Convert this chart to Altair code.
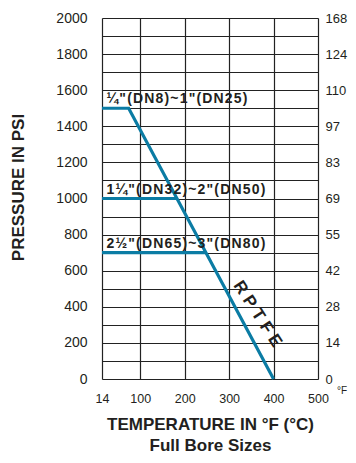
import altair as alt
import pandas as pd

# ---- data ----
curve_temp = [14, 74, 400]
curve_psi = [1500, 1500, 0]
mid_temp = [14, 183]
mid_psi = [1000, 1000]
low_temp = [14, 248]
low_psi = [700, 700]

size_labels = ["¼\"(DN8)~1\"(DN25)", "1¼\"(DN32)~2\"(DN50)", "2½\"(DN65)~3\"(DN80)"]
size_label_psi = [1500, 1000, 700]
size_label_temp = [14, 14, 14]

x_ticks = [14, 100, 200, 300, 400, 500]
psi_grid = [0, 100, 200, 300, 400, 500, 600, 700, 800, 900, 1000,
            1100, 1200, 1300, 1400, 1500, 1600, 1700, 1800, 1900, 2000]
psi_ticks = [0, 200, 400, 600, 800, 1000, 1200, 1400, 1600, 1800, 2000]
bar_labels = ["0", "14", "28", "42", "55", "69", "83", "97", "110", "124", "168"]

material = "RPTFE"
material_temp = 364
material_psi = 360

FONT = "Liberation Sans"
BLUE = "#0b7ca4"
INK = "#231f20"
GRID = "#222222"

rows = []
for t, p in zip(curve_temp, curve_psi):
    rows.append({"temp": t, "psi": p, "series": "main"})
for t, p in zip(mid_temp, mid_psi):
    rows.append({"temp": t, "psi": p, "series": "mid"})
for t, p in zip(low_temp, low_psi):
    rows.append({"temp": t, "psi": p, "series": "low"})
lines_df = pd.DataFrame(rows)

# hair spaces emulate the letter-spaced lettering of the original
labels_df = pd.DataFrame({"temp": size_label_temp, "psi": size_label_psi,
                          "label": ["\u200a".join(s) for s in size_labels]})
mat_df = pd.DataFrame({"temp": [material_temp], "psi": [material_psi],
                       "label": ["\u2009\u200a".join(material)]})
right_df = pd.DataFrame({"psi": psi_ticks, "temp": [14] * len(psi_ticks)})

x_scale = alt.Scale(domain=[14, 500], nice=False, zero=False)
y_scale = alt.Scale(domain=[0, 2000], nice=False, zero=True)

x_axis = alt.Axis(
    values=x_ticks, title=["TEMPERATURE IN °F (°C)", "Full Bore Sizes"], format="d",
    titleFont=FONT, titleFontSize=17, titleFontWeight="bold", titleColor=INK,
    titleY=45, titleBaseline="middle", titleLineHeight=21,
    labelFont=FONT, labelFontSize=12.5, labelColor=INK, labelPadding=13, labelFlush=False,
    ticks=False, domain=False, grid=True, gridColor=GRID, gridWidth=1.2, gridOpacity=1,
)
y_axis_left = alt.Axis(
    values=psi_grid, title="PRESSURE IN PSI", format="d",
    labelExpr="datum.value % 200 == 0 ? datum.label : ''",
    titleFont=FONT, titleFontSize=17, titleFontWeight="bold", titleColor=INK,
    titleX=-84, titleY=169, titleBaseline="middle", titleAngle=-90,
    labelFont=FONT, labelFontSize=14, labelColor=INK, labelPadding=15, labelFlush=False,
    ticks=False, domain=False, grid=True, gridColor=GRID, gridWidth=1.2, gridOpacity=1,
)
bar_array = "[" + ",".join("'" + b + "'" for b in bar_labels) + "]"
y_axis_right = alt.Axis(
    orient="right", values=psi_ticks, title="",
    labelExpr=bar_array + "[round(datum.value / 200)]",
    labelFont=FONT, labelFontSize=13, labelColor=INK, labelPadding=7, labelAlign="left",
    labelFlush=False, ticks=False, domain=False, grid=False,
)

X = alt.X("temp:Q", scale=x_scale, axis=x_axis)
Y = alt.Y("psi:Q", scale=y_scale, axis=y_axis_left)

line_layer = alt.Chart(lines_df).mark_line(color=BLUE, strokeWidth=3.2, strokeCap="butt").encode(
    x=X, y=Y, detail="series:N"
)
label_layer = alt.Chart(labels_df).mark_text(
    font=FONT, fontSize=14, fontWeight="bold", color=INK, align="left",
    baseline="alphabetic", dx=4.5, dy=-5
).encode(x=X, y=Y, text="label:N")
mat_layer = alt.Chart(mat_df).mark_text(
    font=FONT, fontSize=17, fontWeight="bold", color=INK, align="center",
    baseline="middle", angle=57
).encode(x=X, y=Y, text="label:N")
degf_layer = alt.Chart(mat_df).mark_text(
    text="°F", font=FONT, fontSize=10, color=INK, align="right", baseline="middle",
    dx=29, dy=12
).encode(x=alt.datum(500, scale=x_scale, axis=x_axis), y=alt.datum(0, scale=y_scale, axis=y_axis_left))

inner = alt.layer(line_layer, label_layer, mat_layer, degf_layer)

right_layer = alt.Chart(right_df).mark_point(opacity=0).encode(
    x=X, y=alt.Y("psi:Q", scale=y_scale, axis=y_axis_right)
)

chart = alt.layer(inner, right_layer).resolve_axis(y="independent").properties(
    width=216, height=361,
    autosize=alt.AutoSizeParams(type="none"),
    padding={"left": 94, "top": 10, "right": 30, "bottom": 76},
).configure_view(stroke=GRID, strokeWidth=1.2).configure(background="white")

chart.save("out.html", embed_options={"renderer": "svg", "actions": False})
